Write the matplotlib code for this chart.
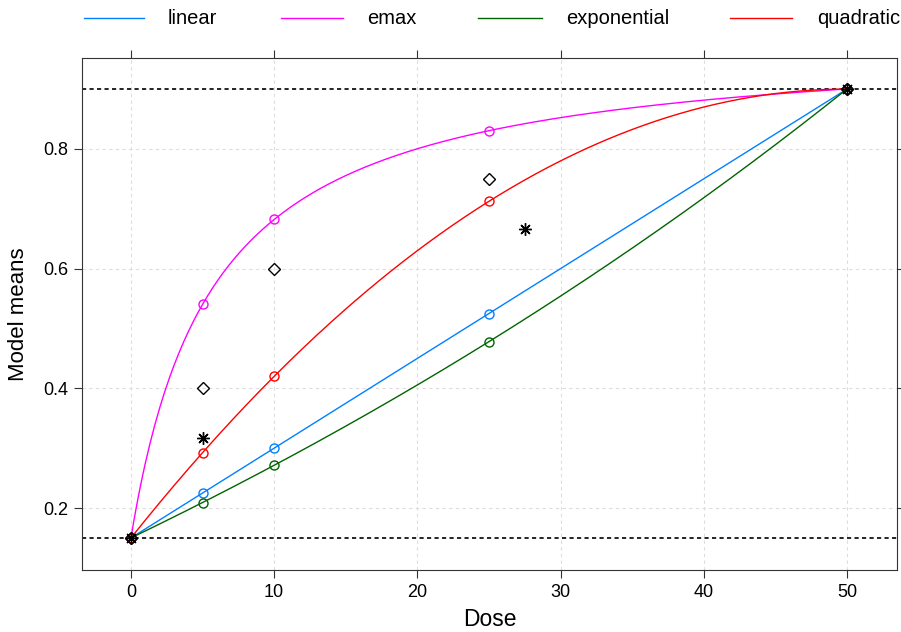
import numpy as np
import matplotlib
matplotlib.use("Agg")
import matplotlib.pyplot as plt
from matplotlib.lines import Line2D

plt.rcParams['font.family'] = ['Liberation Sans', 'DejaVu Sans']

# ---- data ----
doses = [0, 5, 10, 25, 50]
models = ["linear", "emax", "exponential", "quadratic"]
colors = ["#0080ff", "#ff00ff", "#006400", "#ff0000"]
# model parameters
e0 = 0.15
lin_slope = 0.015
emax_emax, emax_ed50 = 0.836, 5.71
exp_e1, exp_delta = 1.143, 99.1
quad_b1, quad_b2 = 0.03, -0.0003
# observed / guesstimate points
star_dose = [0, 5, 27.5, 50]
star_val = [0.15, 0.317, 0.667, 0.9]
diam_dose = [0, 5, 10, 25, 50]
diam_val = [0.15, 0.40, 0.60, 0.75, 0.9]
ref_lines = [0.15, 0.9]
xticks = [0, 10, 20, 30, 40, 50]
yticks = [0.2, 0.4, 0.6, 0.8]

def f(model, d):
    d = np.asarray(d, float)
    if model == "linear":
        return e0 + lin_slope * d
    if model == "emax":
        return e0 + emax_emax * d / (emax_ed50 + d)
    if model == "exponential":
        return e0 + exp_e1 * (np.exp(d / exp_delta) - 1)
    return e0 + quad_b1 * d + quad_b2 * d ** 2

fig = plt.figure(figsize=(9.01, 6.32), dpi=100)
ax = fig.add_axes([82/901, 1-570/632, (897-82)/901, (570-58)/632])

ax.set_xlim(-3.42, 53.5)
ax.set_ylim(0.0964, 0.952)

for x in xticks:
    ax.axvline(x, color="#dddddd", ls=(0, (3, 3)), lw=0.8, zorder=0)
for y in yticks:
    ax.axhline(y, color="#dddddd", ls=(0, (3, 3)), lw=0.8, zorder=0)

dd = np.linspace(0, 50, 300)
for m, c in zip(models, colors):
    ax.plot(dd, f(m, dd), color=c, lw=1.0, zorder=2)
    ax.plot(doses, f(m, doses), ls="none", marker="o", ms=6.5, mfc="none",
            mec=c, mew=1.0, zorder=3)

for y in ref_lines:
    ax.axhline(y, color="black", ls=(0, (2.5, 2)), lw=1.2, zorder=1)

ax.plot(star_dose, star_val, ls="none", marker=(8, 2, 0), ms=9, mec="black",
        mew=1.0, zorder=4)
ax.plot(diam_dose, diam_val, ls="none", marker="D", ms=6.5, mfc="none",
        mec="black", mew=1.0, zorder=4)

ax.set_xticks(xticks)
ax.set_yticks(yticks)
ax.set_xticklabels([str(x) for x in xticks])
ax.set_yticklabels([f"{y:.1f}" for y in yticks])
ax.tick_params(direction="out", length=6, width=0.8, labelsize=13,
               top=True, right=True, color="#333333", pad=4)
for s in ax.spines.values():
    s.set_color("#333333")
    s.set_linewidth(0.8)

ax.set_xlabel("Dose", fontsize=16.5, labelpad=5)
ax.set_ylabel("Model means", fontsize=16, labelpad=10)

# legend (lattice-style key on top)
line_x = [(84, 144), (281, 343), (478, 542), (730, 792)]
text_x = [168, 367, 566, 817]
ky = 1 - 18/632
for (x0, x1), tx, m, c in zip(line_x, text_x, models, colors):
    fig.add_artist(Line2D([x0/901, x1/901], [ky, ky], color=c, lw=1.0,
                          transform=fig.transFigure))
    fig.text(tx/901, ky, m, fontsize=14.5, va="center", ha="left")

fig.savefig("out.png", dpi=100)
